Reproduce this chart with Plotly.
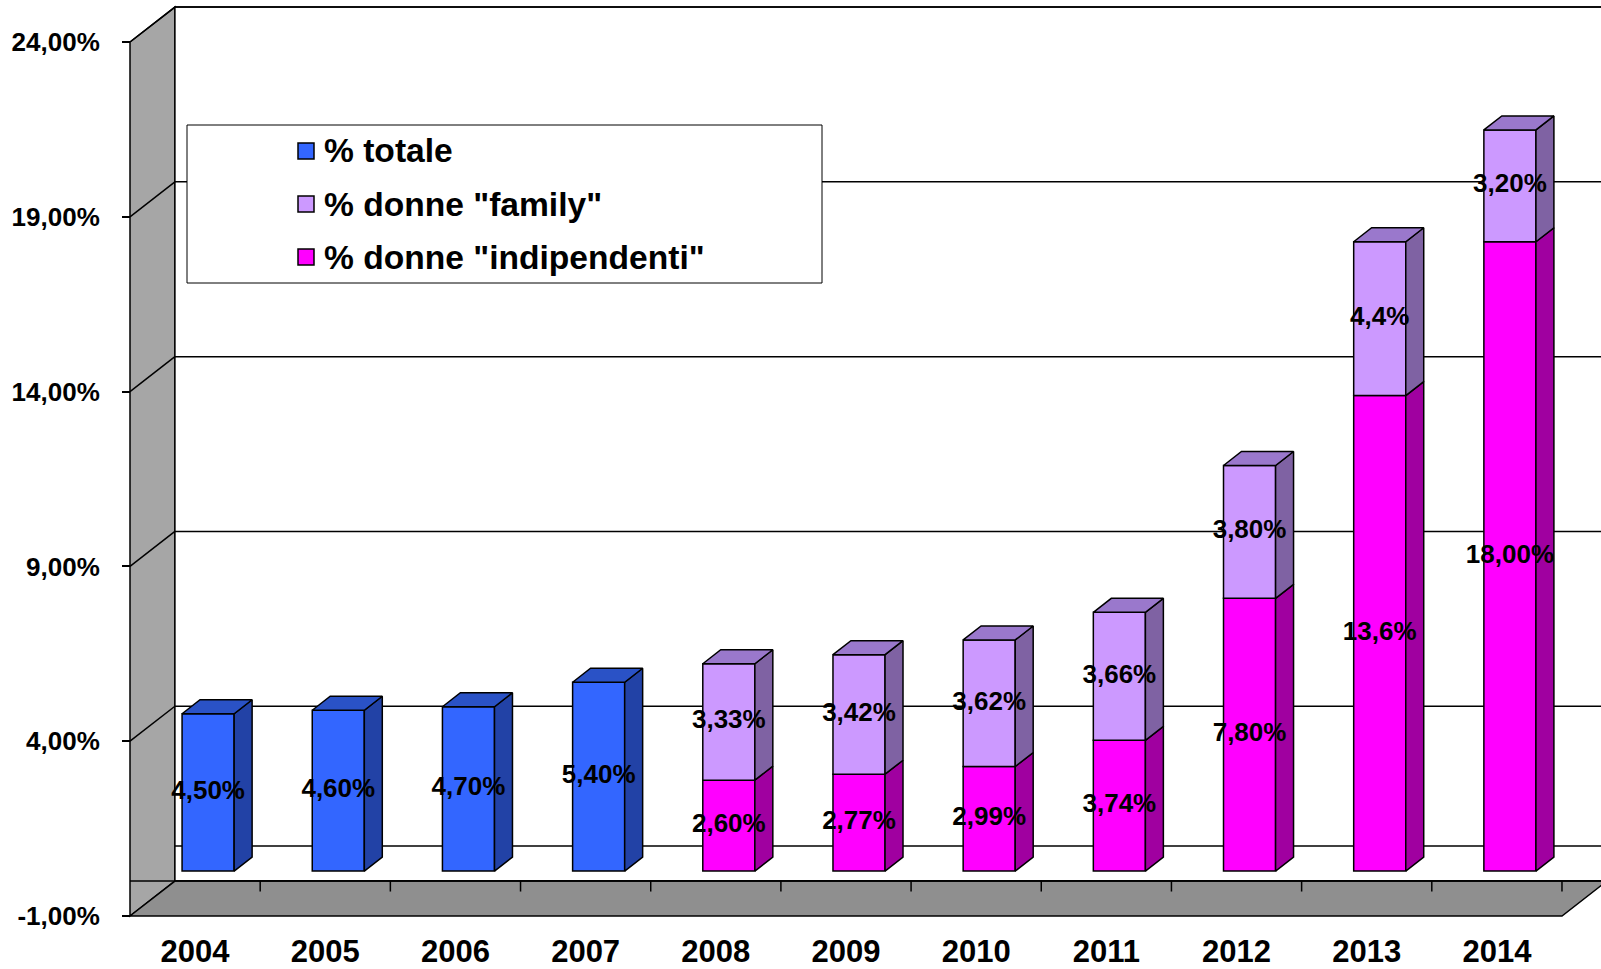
import plotly.graph_objects as go

# ---------------- data ----------------
years = ["2004", "2005", "2006", "2007", "2008", "2009", "2010", "2011", "2012", "2013", "2014"]
totale_years = ["2004", "2005", "2006", "2007"]
totale = [4.50, 4.60, 4.70, 5.40]
totale_labels = ["4,50%", "4,60%", "4,70%", "5,40%"]
split_years = ["2008", "2009", "2010", "2011", "2012", "2013", "2014"]
indipendenti = [2.60, 2.77, 2.99, 3.74, 7.80, 13.6, 18.00]
indipendenti_labels = ["2,60%", "2,77%", "2,99%", "3,74%", "7,80%", "13,6%", "18,00%"]
family = [3.33, 3.42, 3.62, 3.66, 3.80, 4.4, 3.20]
family_labels = ["3,33%", "3,42%", "3,62%", "3,66%", "3,80%", "4,4%", "3,20%"]
y_ticks = [-1, 4, 9, 14, 19, 24]
y_ticklabels = ["-1,00%", "4,00%", "9,00%", "14,00%", "19,00%", "24,00%"]
series_names = ['% totale', '% donne "family"', '% donne "indipendenti"']

# ---------------- geometry / style ----------------
W, H = 1601, 969
AX_X_PX, CAT_PX = 130.0, 130.18      # pixel of x=-0.5, pixels per category
Y24_PX, UNIT_PX = 42.0, 34.96         # pixel of y=24, pixels per 1%
XR = [-0.5 - AX_X_PX / CAT_PX, -0.5 + (W - AX_X_PX) / CAT_PX]
YR = [24 - (H - Y24_PX) / UNIT_PX, 24 + Y24_PX / UNIT_PX]
WDX, WDY = 0.345, 1.0                 # depth of wall (x cats, y units)
FX, FY = 0.10, 0.286                  # bar front-face depth shift
BW, BDX, BDY = 0.40, 0.138, 0.40      # bar width and depth

FONT = "Liberation Sans, Arial, sans-serif"
EDGE = dict(color="black", width=1.5)
colors = {
    "tot": ("#3366FF", "#2242A6", "#2A52C6"),
    "fam": ("#CC99FF", "#7F62A3", "#9A78CC"),
    "ind": ("#FF00FF", "#A000A0", "#C000C0"),
}
LEFT_WALL = "#A6A6A6"
FLOOR = "#8F8F8F"

xmin, ymin, ytop = -0.5, min(y_ticks), max(y_ticks)
xmax = len(years) - 0.5
x_far = XR[1] + 0.5

shapes = []
# left wall
shapes.append(dict(type="path", layer="below", fillcolor=LEFT_WALL, line=EDGE,
                   path=f"M{xmin},{ymin} L{xmin + WDX},{ymin + WDY} L{xmin + WDX},{ytop + WDY} L{xmin},{ytop} Z"))
# back wall
shapes.append(dict(type="rect", layer="below", fillcolor="white", line=EDGE,
                   x0=xmin + WDX, x1=x_far, y0=ymin + WDY, y1=ytop + WDY))
# floor
shapes.append(dict(type="path", layer="below", fillcolor=FLOOR, line=EDGE,
                   path=f"M{xmin},{ymin} L{xmax},{ymin} L{xmax + WDX},{ymin + WDY} L{xmin + WDX},{ymin + WDY} Z"))
shapes.append(dict(type="line", layer="below", line=EDGE,
                   x0=xmin, x1=x_far, y0=ymin + WDY, y1=ymin + WDY))
# gridlines (back wall + left wall diagonals)
for v in y_ticks[1:]:
    shapes.append(dict(type="line", layer="below", line=EDGE,
                       x0=xmin, y0=v, x1=xmin + WDX, y1=v + WDY))
    shapes.append(dict(type="line", layer="below", line=EDGE,
                       x0=xmin + WDX, y0=v + WDY, x1=x_far, y1=v + WDY))
shapes.append(dict(type="line", layer="below", line=EDGE,
                   x0=xmin + WDX, y0=0 + WDY, x1=x_far, y1=0 + WDY))
# category ticks on the floor
for k in range(len(years)):
    shapes.append(dict(type="line", layer="below", line=EDGE,
                       x0=k + 0.5, x1=k + 0.5, y0=ymin + WDY, y1=ymin + WDY - 0.3))

fig = go.Figure()


def add_bar(xs, bases, vals, key, name):
    front, side, top = colors[key]
    fig.add_trace(go.Bar(x=[x + FX for x in xs], y=vals, base=[b + FY for b in bases],
                         width=BW, marker=dict(color=front, line=EDGE), name=name,
                         showlegend=False, hoverinfo="skip"))


def add_faces(xs, bases, vals, key, with_top):
    front, side, top = colors[key]
    for x, b, v in zip(xs, bases, vals):
        xr = x + FX + BW / 2
        y0, y1 = b + FY, b + v + FY
        fig.add_trace(go.Scatter(x=[xr, xr + BDX, xr + BDX, xr, xr],
                                 y=[y0, y0 + BDY, y1 + BDY, y1, y0],
                                 mode="lines", fill="toself", fillcolor=side, line=EDGE,
                                 showlegend=False, hoverinfo="skip"))
        if with_top:
            xl = x + FX - BW / 2
            fig.add_trace(go.Scatter(x=[xl, xr, xr + BDX, xl + BDX, xl],
                                     y=[y1, y1, y1 + BDY, y1 + BDY, y1],
                                     mode="lines", fill="toself", fillcolor=top, line=EDGE,
                                     showlegend=False, hoverinfo="skip"))


xt = [years.index(y) for y in totale_years]
xs = [years.index(y) for y in split_years]
zeros_t = [0] * len(totale)
zeros_s = [0] * len(indipendenti)

add_bar(xt, zeros_t, totale, "tot", series_names[0])
add_bar(xs, zeros_s, indipendenti, "ind", series_names[2])
add_bar(xs, indipendenti, family, "fam", series_names[1])
add_faces(xt, zeros_t, totale, "tot", True)
add_faces(xs, zeros_s, indipendenti, "ind", False)
add_faces(xs, indipendenti, family, "fam", True)

# data labels
lab_font = dict(family=FONT, size=26, color="black", weight="bold")
fig.add_trace(go.Scatter(x=[x + FX for x in xt], y=[v / 2 + FY for v in totale],
                         text=totale_labels, mode="text", textfont=lab_font,
                         showlegend=False, hoverinfo="skip"))
fig.add_trace(go.Scatter(x=[x + FX for x in xs], y=[v / 2 + FY for v in indipendenti],
                         text=indipendenti_labels, mode="text", textfont=lab_font,
                         showlegend=False, hoverinfo="skip"))
fig.add_trace(go.Scatter(x=[x + FX for x in xs], y=[b + v / 2 + FY for b, v in zip(indipendenti, family)],
                         text=family_labels, mode="text", textfont=lab_font,
                         showlegend=False, hoverinfo="skip"))

# legend (drawn box)
def px(x):
    return x / W


def py(y):
    return 1 - y / H


LEG = dict(x0=187, y0=125, x1=822, y1=283)
shapes.append(dict(type="rect", xref="paper", yref="paper", layer="above",
                   x0=px(LEG["x0"]), x1=px(LEG["x1"]), y0=py(LEG["y1"]), y1=py(LEG["y0"]),
                   fillcolor="white", line=dict(color="black", width=1)))
annotations = []
row_y = [151, 204, 257]
leg_cols = [colors["tot"][0], colors["fam"][0], colors["ind"][0]]
for name, yy, c in zip(series_names, row_y, leg_cols):
    shapes.append(dict(type="rect", xref="paper", yref="paper", layer="above",
                       x0=px(298), x1=px(314), y0=py(yy + 8), y1=py(yy - 8),
                       fillcolor=c, line=dict(color="black", width=1.5)))
    annotations.append(dict(xref="paper", yref="paper", x=px(322), y=py(yy), text=name,
                            showarrow=False, xanchor="left", yanchor="middle",
                            font=dict(family=FONT, size=33.6, color="black", weight="bold")))

fig.update_layout(
    width=W, height=H, margin=dict(l=0, r=0, t=0, b=0, pad=0),
    plot_bgcolor="white", paper_bgcolor="white", barmode="overlay", showlegend=False,
    shapes=shapes, annotations=annotations,
    xaxis=dict(range=XR, anchor="free", position=(H - (Y24_PX + 25 * UNIT_PX)) / H,
               tickvals=list(range(len(years))), ticktext=years, ticks="",
               showgrid=False, zeroline=False, showline=False, automargin=False,
               tickfont=dict(family=FONT, size=31, color="black", weight="bold"),
               ticklabelstandoff=14),
    yaxis=dict(range=YR, anchor="free", position=AX_X_PX / W,
               tickvals=y_ticks, ticktext=y_ticklabels, ticks="outside", ticklen=8,
               tickwidth=1.5, tickcolor="black", showgrid=False, zeroline=False,
               showline=False, automargin=False,
               tickfont=dict(family=FONT, size=26, color="black", weight="bold"),
               ticklabelstandoff=17),
)

fig.write_html("out.html", config={"displayModeBar": False},
               post_script="document.body.style.margin='0px';document.body.style.overflow='hidden';")
